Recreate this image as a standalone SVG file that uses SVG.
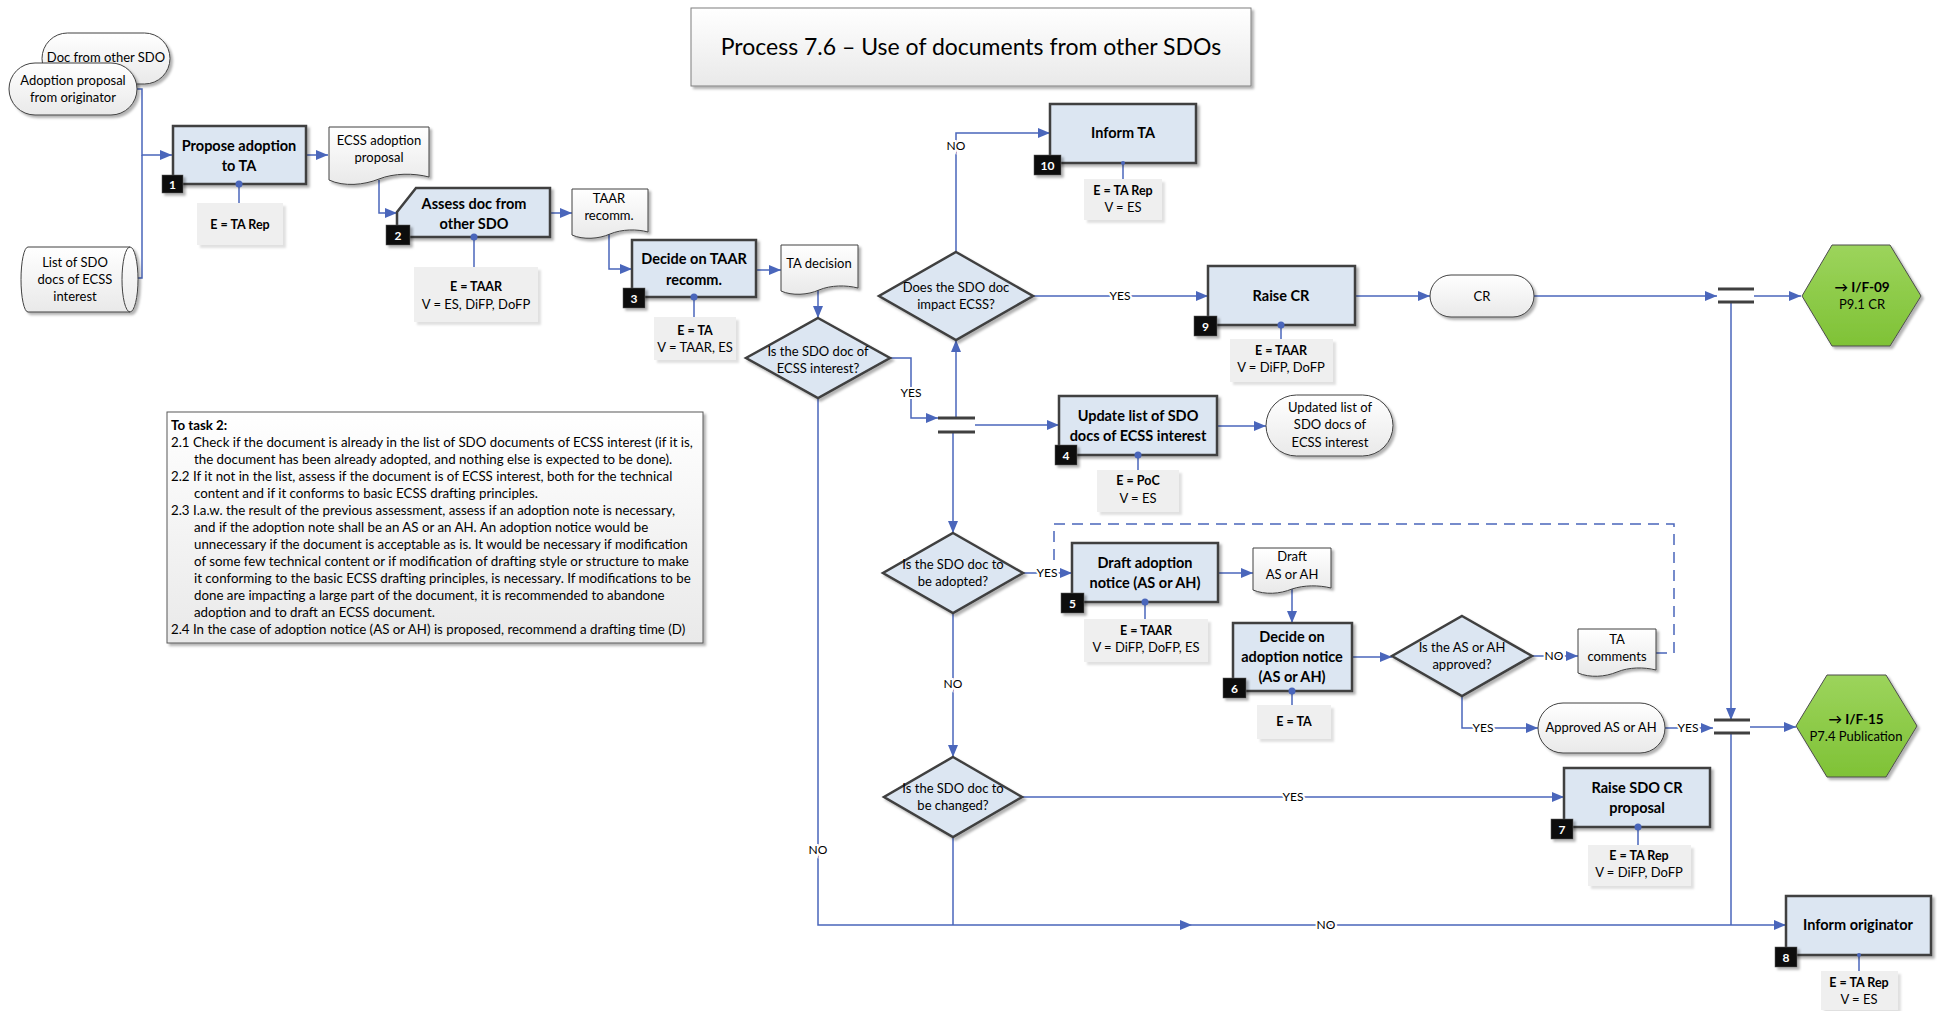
<svg xmlns="http://www.w3.org/2000/svg" width="1937" height="1011" viewBox="0 0 1937 1011">
<defs>
<linearGradient id="gw" x1="0" y1="0" x2="0" y2="1"><stop offset="0" stop-color="#ffffff"/><stop offset="1" stop-color="#e9e9e9"/></linearGradient>
<linearGradient id="gg" x1="0" y1="0" x2="0" y2="1"><stop offset="0" stop-color="#9cd45c"/><stop offset="1" stop-color="#7fc236"/></linearGradient>
<filter id="sh" x="-10%" y="-10%" width="130%" height="140%"><feDropShadow dx="2.5" dy="2.5" stdDeviation="1.2" flood-color="#000" flood-opacity="0.3"/></filter>
<filter id="sh2" x="-10%" y="-10%" width="130%" height="140%"><feDropShadow dx="3" dy="3" stdDeviation="0.8" flood-color="#000" flood-opacity="0.12"/></filter>
<marker id="a" markerWidth="12" markerHeight="10" refX="12" refY="5" orient="auto" markerUnits="userSpaceOnUse"><path d="M0,0 L12,5 L0,10 Z" fill="#4a66bb"/></marker>
<style>
.t{font-family:Lato,"Liberation Sans",sans-serif;fill:#000;text-anchor:middle}
.tb{font-size:14.5px;font-weight:bold}
.ts{font-size:13px}
.lb{font-size:12.5px;font-weight:bold}
.cl{font-size:12px;stroke:#fff;stroke-width:4;paint-order:stroke}
.nt{font-family:Lato,"Liberation Sans",sans-serif;font-size:13.3px;fill:#000}
.box{fill:#dce6f2;stroke:#3f3f3f;stroke-width:2.5;filter:url(#sh)}
.dia{fill:#dce6f2;stroke:#3f3f3f;stroke-width:2.5;filter:url(#sh)}
.lbl{fill:#efefef;filter:url(#sh2)}
.bd{fill:#111;stroke:#555;stroke-width:0.5;filter:url(#sh)}
.bt{font-family:Lato,"Liberation Sans",sans-serif;font-size:12px;font-weight:bold;fill:#fff;text-anchor:middle}
.doc{fill:url(#gw);stroke:#404040;stroke-width:1;filter:url(#sh)}
.hex{fill:url(#gg);stroke:#4d4d4d;stroke-width:1;filter:url(#sh)}
.c{fill:none;stroke:#4a66bb;stroke-width:1.5}
.ca{fill:none;stroke:#4a66bb;stroke-width:1.5;marker-end:url(#a)}
.dash{fill:none;stroke:#4a66bb;stroke-width:1.5;stroke-dasharray:11 7}
.bar{stroke:#404040;stroke-width:3}
.dot{fill:#4a66bb}
</style>
</defs>
<rect width="1937" height="1011" fill="#fff"/>

<g id="title">
<rect x="691" y="8" width="560" height="78" fill="url(#gw)" stroke="#7f7f7f" stroke-width="1" filter="url(#sh)"/>
<text class="t" x="971" y="55" style="font-size:23px">Process 7.6 – Use of documents from other SDOs</text>
</g>

<g id="connectors">
<path class="ca" d="M137,89 H142 V155 H172"/>
<path class="c" d="M130,278 H142 V155"/>
<path class="ca" d="M306,155 H328"/>
<path class="ca" d="M379,180 V213 H397"/>
<path class="ca" d="M550,213 H572"/>
<path class="ca" d="M609,234 V269 H632"/>
<path class="ca" d="M756,270 H781"/>
<path class="ca" d="M818,290 V318"/>
<path class="ca" d="M891,358 H911 V418 H938"/>
<path class="ca" d="M956,418 V340"/>
<path class="ca" d="M956,252 V133 H1050"/>
<path class="ca" d="M1033,296 H1208"/>
<path class="ca" d="M1355,296 H1430"/>
<path class="ca" d="M1534,296 H1717"/>
<path class="ca" d="M1754,296 H1801"/>
<path class="ca" d="M975,425 H1059"/>
<path class="ca" d="M1217,426 H1266"/>
<path class="ca" d="M953,432 V533"/>
<path class="ca" d="M1023,573 H1072"/>
<path class="ca" d="M1218,573 H1253"/>
<path class="ca" d="M1292,589 V623"/>
<path class="ca" d="M1352,657 H1392"/>
<path class="ca" d="M1532,656 H1578"/>
<path class="dash" d="M1656,653 H1674 V524 H1054 V573"/>
<path class="ca" d="M1462,696 V728 H1538"/>
<path class="ca" d="M1665,728 H1713"/>
<path class="ca" d="M1750,727 H1796"/>
<path class="ca" d="M1731,302 V720"/>
<path class="c" d="M1731,733 V925"/>
<path class="ca" d="M953,613 V757"/>
<path class="ca" d="M1022,797 H1564"/>
<path class="c" d="M953,837 V925"/>
<path class="ca" d="M818,398 V925 H1786"/>
<path d="M1180,920 L1192,925 L1180,930 Z" fill="#4a66bb"/>
<line class="bar" x1="938" y1="418" x2="975" y2="418"/>
<line class="bar" x1="938" y1="432" x2="975" y2="432"/>
<line class="bar" x1="1718" y1="289" x2="1754" y2="289"/>
<line class="bar" x1="1718" y1="302" x2="1754" y2="302"/>
<line class="bar" x1="1714" y1="720" x2="1750" y2="720"/>
<line class="bar" x1="1714" y1="733" x2="1750" y2="733"/>
<text class="t cl" x="911" y="397">YES</text>
<text class="t cl" x="956" y="150">NO</text>
<text class="t cl" x="1120" y="300">YES</text>
<text class="t cl" x="1047" y="577">YES</text>
<text class="t cl" x="1554" y="660">NO</text>
<text class="t cl" x="1483" y="732">YES</text>
<text class="t cl" x="1688" y="732">YES</text>
<text class="t cl" x="953" y="688">NO</text>
<text class="t cl" x="1293" y="801">YES</text>
<text class="t cl" x="818" y="854">NO</text>
<text class="t cl" x="1326" y="929">NO</text>
</g>

<g id="doc-other-sdo">
<rect x="42" y="33" width="128" height="51" rx="25.5" fill="url(#gw)" stroke="#404040" stroke-width="1" filter="url(#sh)"/>
<text class="t ts" x="106" y="62">Doc from other SDO</text>
</g>
<g id="adoption-proposal">
<rect x="9" y="63" width="128" height="52" rx="26" fill="url(#gw)" stroke="#404040" stroke-width="1" filter="url(#sh)"/>
<text class="t ts" x="73" y="85">Adoption proposal</text>
<text class="t ts" x="73" y="102">from originator</text>
</g>
<g id="list-sdo-docs">
<path d="M28,247 H130 A8,32.5 0 0 1 130,312 H28 A7,32.5 0 0 1 28,247 Z" fill="url(#gw)" stroke="#404040" stroke-width="1" filter="url(#sh)"/>
<path d="M130,247 A8,32.5 0 0 0 130,312" fill="none" stroke="#404040" stroke-width="1"/>
<text class="t ts" x="75" y="267">List of SDO</text>
<text class="t ts" x="75" y="284">docs of ECSS</text>
<text class="t ts" x="75" y="301">interest</text>
</g>

<g id="task1">
<line class="c" x1="239" y1="184" x2="239" y2="203"/>
<rect class="lbl" x="197" y="203" width="86" height="42"/>
<text class="t lb" x="240" y="229">E = TA Rep</text>
<rect class="box" x="173" y="126" width="133" height="58"/>
<text class="t tb" x="239" y="151">Propose adoption</text>
<text class="t tb" x="239" y="171">to TA</text>
<circle class="dot" cx="239" cy="184" r="3.5"/>
<rect class="bd" x="162" y="175" width="21" height="18"/>
<text class="bt" x="172.5" y="188.5">1</text>
</g>

<g id="ecss-adoption-proposal">
<path class="doc" d="M329,127 H429 V177 C414,173 394,173 379,179 C364,185 344,187 329,180 Z"/>
<text class="t ts" x="379" y="145">ECSS adoption</text>
<text class="t ts" x="379" y="162">proposal</text>
</g>

<g id="task2">
<line class="c" x1="474" y1="237" x2="474" y2="267"/>
<rect class="lbl" x="414" y="267" width="124" height="55"/>
<text class="t lb" x="476" y="291">E = TAAR</text>
<text class="t ts" x="476" y="309">V = ES, DiFP, DoFP</text>
<path class="box" d="M397,212 L416,188 H550 V237 H397 Z"/>
<text class="t tb" x="474" y="209">Assess doc from</text>
<text class="t tb" x="474" y="229">other SDO</text>
<circle class="dot" cx="474" cy="237" r="3.5"/>
<rect class="bd" x="386" y="225" width="24" height="20"/>
<text class="bt" x="398" y="239.5">2</text>
</g>

<g id="taar-recomm">
<path class="doc" d="M572,189 H648 V232 C637,229 622,229 610,234 C599,239 583,240 572,235 Z"/>
<text class="t ts" x="609" y="203">TAAR</text>
<text class="t ts" x="609" y="220">recomm.</text>
</g>

<g id="task3">
<line class="c" x1="694" y1="297" x2="694" y2="317"/>
<rect class="lbl" x="654" y="317" width="82" height="43"/>
<text class="t lb" x="695" y="335">E = TA</text>
<text class="t ts" x="695" y="352">V = TAAR, ES</text>
<rect class="box" x="632" y="240" width="124" height="57"/>
<text class="t tb" x="694" y="264">Decide on TAAR</text>
<text class="t tb" x="694" y="285">recomm.</text>
<circle class="dot" cx="694" cy="297" r="3.5"/>
<rect class="bd" x="623" y="288" width="22" height="20"/>
<text class="bt" x="634" y="302.5">3</text>
</g>

<g id="ta-decision">
<path class="doc" d="M781,245 H858 V288 C846,285 831,285 819,290 C808,295 792,296 781,291 Z"/>
<text class="t ts" x="819" y="268">TA decision</text>
</g>

<g id="q-interest">
<path class="dia" d="M818,318 L890,358 L818,398 L746,358 Z"/>
<text class="t ts" x="818" y="356">Is the SDO doc of</text>
<text class="t ts" x="818" y="373">ECSS interest?</text>
</g>

<g id="q-impact">
<path class="dia" d="M956,252 L1033,296 L956,340 L879,296 Z"/>
<text class="t ts" x="956" y="292">Does the SDO doc</text>
<text class="t ts" x="956" y="309">impact ECSS?</text>
</g>

<g id="task10">
<line class="c" x1="1123" y1="163" x2="1123" y2="179"/>
<rect class="lbl" x="1084" y="179" width="78" height="41"/>
<text class="t lb" x="1123" y="195">E = TA Rep</text>
<text class="t ts" x="1123" y="212">V = ES</text>
<rect class="box" x="1050" y="104" width="146" height="59"/>
<text class="t tb" x="1123" y="138">Inform TA</text>
<circle class="dot" cx="1123" cy="163" r="2"/>
<rect class="bd" x="1034" y="155" width="27" height="20"/>
<text class="bt" x="1047.5" y="169.5">10</text>
</g>

<g id="task9">
<line class="c" x1="1281" y1="325" x2="1281" y2="339"/>
<rect class="lbl" x="1230" y="339" width="103" height="43"/>
<text class="t lb" x="1281" y="355">E = TAAR</text>
<text class="t ts" x="1281" y="372">V = DiFP, DoFP</text>
<rect class="box" x="1208" y="266" width="147" height="59"/>
<text class="t tb" x="1281" y="301">Raise CR</text>
<circle class="dot" cx="1281" cy="325" r="3.5"/>
<rect class="bd" x="1194" y="316" width="23" height="20"/>
<text class="bt" x="1205.5" y="330.5">9</text>
</g>

<g id="cr">
<rect x="1430" y="275" width="104" height="42" rx="21" fill="url(#gw)" stroke="#404040" stroke-width="1" filter="url(#sh)"/>
<text class="t ts" x="1482" y="300.5">CR</text>
</g>

<g id="if-09">
<path class="hex" d="M1802,296 L1832,245 L1890,245 L1921,296 L1890,346 L1832,346 Z"/>
<text class="t lb" x="1862" y="292" style="font-size:13.5px">→ I/F-09</text>
<text class="t ts" x="1862" y="309" style="font-size:13px">P9.1 CR</text>
</g>

<g id="task4">
<line class="c" x1="1138" y1="455" x2="1138" y2="470"/>
<rect class="lbl" x="1097" y="470" width="82" height="42"/>
<text class="t lb" x="1138" y="485">E = PoC</text>
<text class="t ts" x="1138" y="503">V = ES</text>
<rect class="box" x="1059" y="396" width="158" height="59"/>
<text class="t tb" x="1138" y="421">Update list of SDO</text>
<text class="t tb" x="1138" y="441">docs of ECSS interest</text>
<circle class="dot" cx="1138" cy="455" r="3.5"/>
<rect class="bd" x="1055" y="445" width="22" height="20"/>
<text class="bt" x="1066" y="459.5">4</text>
</g>

<g id="updated-list">
<rect x="1266" y="395" width="127" height="61" rx="30.5" fill="url(#gw)" stroke="#404040" stroke-width="1" filter="url(#sh)"/>
<text class="t ts" x="1330" y="412">Updated list of</text>
<text class="t ts" x="1330" y="429">SDO docs of</text>
<text class="t ts" x="1330" y="447">ECSS interest</text>
</g>

<g id="note">
<rect x="167" y="412" width="536" height="231" fill="url(#gw)" stroke="#595959" stroke-width="1" filter="url(#sh)"/>
<text class="nt" x="171" y="430" font-weight="bold">To task 2:</text>
<text class="nt" x="171" y="447">2.1 Check if the document is already in the list of SDO documents of ECSS interest (if it is,</text>
<text class="nt" x="194" y="464">the document has been already adopted, and nothing else is expected to be done).</text>
<text class="nt" x="171" y="481">2.2 If it not in the list, assess if the document is of ECSS interest, both for the technical</text>
<text class="nt" x="194" y="498">content and if it conforms to basic ECSS drafting principles.</text>
<text class="nt" x="171" y="515">2.3 I.a.w. the result of the previous assessment, assess if an adoption note is necessary,</text>
<text class="nt" x="194" y="532">and if the adoption note shall be an AS or an AH. An adoption notice would be</text>
<text class="nt" x="194" y="549">unnecessary if the document is acceptable as is. It would be necessary if modification</text>
<text class="nt" x="194" y="566">of some few technical content or if modification of drafting style or structure to make</text>
<text class="nt" x="194" y="583">it conforming to the basic ECSS drafting principles, is necessary. If modifications to be</text>
<text class="nt" x="194" y="600">done are impacting a large part of the document, it is recommended to abandone</text>
<text class="nt" x="194" y="617">adoption and to draft an ECSS document.</text>
<text class="nt" x="171" y="634">2.4 In the case of adoption notice (AS or AH) is proposed, recommend a drafting time (D)</text>
</g>

<g id="q-adopted">
<path class="dia" d="M953,533 L1023,573 L953,613 L883,573 Z"/>
<text class="t ts" x="953" y="569">Is the SDO doc to</text>
<text class="t ts" x="953" y="586">be adopted?</text>
</g>

<g id="task5">
<line class="c" x1="1145" y1="602" x2="1145" y2="619"/>
<rect class="lbl" x="1084" y="619" width="124" height="43"/>
<text class="t lb" x="1146" y="635">E = TAAR</text>
<text class="t ts" x="1146" y="652">V = DiFP, DoFP, ES</text>
<rect class="box" x="1072" y="543" width="146" height="59"/>
<text class="t tb" x="1145" y="568">Draft adoption</text>
<text class="t tb" x="1145" y="588">notice (AS or AH)</text>
<circle class="dot" cx="1145" cy="602" r="3.5"/>
<rect class="bd" x="1061" y="593" width="23" height="20"/>
<text class="bt" x="1072.5" y="607.5">5</text>
</g>

<g id="draft-as-ah">
<path class="doc" d="M1253,548 H1331 V588 C1319,585 1304,585 1292,589 C1280,594 1265,595 1253,590 Z"/>
<text class="t ts" x="1292" y="561">Draft</text>
<text class="t ts" x="1292" y="579">AS or AH</text>
</g>

<g id="task6">
<line class="c" x1="1292" y1="691" x2="1292" y2="705"/>
<rect class="lbl" x="1257" y="705" width="74" height="34"/>
<text class="t lb" x="1294" y="726">E = TA</text>
<rect class="box" x="1233" y="623" width="119" height="68"/>
<text class="t tb" x="1292" y="642">Decide on</text>
<text class="t tb" x="1292" y="662">adoption notice</text>
<text class="t tb" x="1292" y="682">(AS or AH)</text>
<circle class="dot" cx="1292" cy="691" r="3.5"/>
<rect class="bd" x="1223" y="678" width="23" height="20"/>
<text class="bt" x="1234.5" y="692.5">6</text>
</g>

<g id="q-approved">
<path class="dia" d="M1462,616 L1532,656 L1462,696 L1392,656 Z"/>
<text class="t ts" x="1462" y="652">Is the AS or AH</text>
<text class="t ts" x="1462" y="669">approved?</text>
</g>

<g id="ta-comments">
<path class="doc" d="M1578,629 H1656 V670 C1644,667 1629,667 1617,672 C1605,677 1590,678 1578,673 Z"/>
<text class="t ts" x="1617" y="644">TA</text>
<text class="t ts" x="1617" y="661">comments</text>
</g>

<g id="approved-as-ah">
<rect x="1538" y="703" width="127" height="50" rx="25" fill="url(#gw)" stroke="#404040" stroke-width="1" filter="url(#sh)"/>
<text class="t ts" x="1601" y="732">Approved AS or AH</text>
</g>

<g id="if-15">
<path class="hex" d="M1796,726 L1827,675 L1886,675 L1917,726 L1886,777 L1827,777 Z"/>
<text class="t lb" x="1856" y="724" style="font-size:13.5px">→ I/F-15</text>
<text class="t ts" x="1856" y="741" style="font-size:13px">P7.4 Publication</text>
</g>

<g id="q-changed">
<path class="dia" d="M953,757 L1022,797 L953,837 L884,797 Z"/>
<text class="t ts" x="953" y="793">Is the SDO doc to</text>
<text class="t ts" x="953" y="810">be changed?</text>
</g>

<g id="task7">
<line class="c" x1="1638" y1="827" x2="1638" y2="845"/>
<rect class="lbl" x="1588" y="845" width="103" height="41"/>
<text class="t lb" x="1639" y="860">E = TA Rep</text>
<text class="t ts" x="1639" y="877">V = DiFP, DoFP</text>
<rect class="box" x="1564" y="768" width="146" height="59"/>
<text class="t tb" x="1637" y="793">Raise SDO CR</text>
<text class="t tb" x="1637" y="813">proposal</text>
<circle class="dot" cx="1638" cy="827" r="3.5"/>
<rect class="bd" x="1551" y="819" width="22" height="20"/>
<text class="bt" x="1562" y="833.5">7</text>
</g>

<g id="task8">
<line class="c" x1="1859" y1="955" x2="1859" y2="971"/>
<rect class="lbl" x="1821" y="971" width="77" height="39"/>
<text class="t lb" x="1859" y="987">E = TA Rep</text>
<text class="t ts" x="1859" y="1004">V = ES</text>
<rect class="box" x="1786" y="896" width="145" height="59"/>
<text class="t tb" x="1858" y="930">Inform originator</text>
<circle class="dot" cx="1859" cy="955" r="2"/>
<rect class="bd" x="1775" y="947" width="22" height="20"/>
<text class="bt" x="1786" y="961.5">8</text>
</g>
</svg>
